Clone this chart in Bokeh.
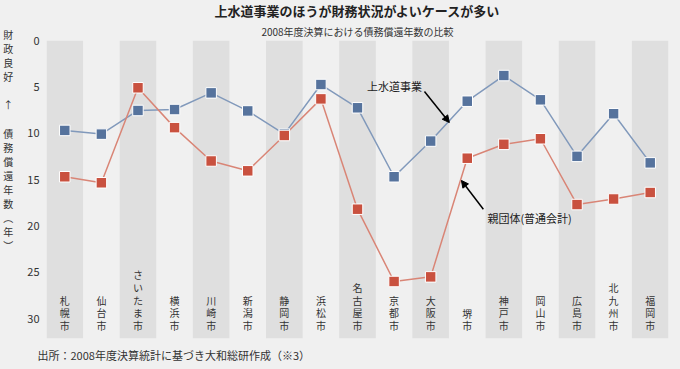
from bokeh.plotting import figure
from bokeh.models import FactorRange, Range1d, Label, Arrow, NormalHead, ColumnDataSource, Title
from bokeh.core.properties import value
from bokeh.embed import file_html
from bokeh.resources import INLINE

# ---- data ----
cities = ["札幌市", "仙台市", "さいたま市", "横浜市", "川崎市", "新潟市", "静岡市", "浜松市",
          "名古屋市", "京都市", "大阪市", "堺市", "神戸市", "岡山市", "広島市", "北九州市", "福岡市"]
water = [9.7, 10.1, 7.55, 7.45, 5.65, 7.6, 10.1, 4.75, 7.26, 14.7, 10.85, 6.55, 3.78, 6.4, 12.5, 7.9, 13.2]
general = [14.7, 15.35, 5.1, 9.4, 13.0, 14.06, 10.25, 6.3, 18.2, 26.0, 25.5, 12.7, 11.2, 10.6, 17.7, 17.1, 16.4]
y_ticks = [0, 5, 10, 15, 20, 25, 30]
y_max = 32.15

title = "上水道事業のほうが財務状況がよいケースが多い"
subtitle = "2008年度決算における債務償還年数の比較"
footer = "出所：2008年度決算統計に基づき大和総研作成（※3）"
y_label_chars = ["財", "政", "良", "好", "\u3000", "↑", "\u3000", "債", "務", "償", "還", "年", "数", "︵", "年", "︶"]
water_name = "上水道事業"
general_name = "親団体(普通会計)"

FONT = "Noto Sans CJK JP"
BG = "#f0f0f0"
BAND = "#dfdfdf"
TXT = "#333333"

p = figure(width=672, height=372, output_backend="svg", toolbar_location=None,
           x_range=FactorRange(*cities, range_padding=0),
           y_range=Range1d(y_max, 0), x_axis_location=None,
           min_border_left=45, min_border_right=4, min_border_top=43, min_border_bottom=31)
p.background_fill_color = BG
p.border_fill_color = BG
p.outline_line_color = None
p.grid.visible = False

ax = p.yaxis[0]
ax.ticker = y_ticks
ax.axis_line_color = None
ax.major_tick_line_color = None
ax.minor_tick_line_color = None
ax.major_tick_out = 0
ax.major_label_standoff = 7
ax.major_label_text_font = FONT
ax.major_label_text_font_size = "11px"
ax.major_label_text_color = TXT
# vertical (stacked) axis title, padded with blank lines so it sits in the upper part
ax.axis_label = "\n".join(y_label_chars + ["\u3000"] * 7)
ax.axis_label_orientation = "horizontal"
ax.axis_label_standoff = 11
ax.axis_label_text_font = FONT
ax.axis_label_text_font_size = "10px"
ax.axis_label_text_font_style = "normal"
ax.axis_label_text_color = TXT
ax.axis_label_text_line_height = 0.94

# alternating bands
band_x = cities[0::2]
p.vbar(x=band_x, top=0, bottom=y_max, width=1, fill_color=BAND, line_color=None)

# category labels (vertical)
lab_src = ColumnDataSource(dict(x=cities, y=[31.6] * len(cities),
                                t=["\n".join(c) for c in cities]))
p.text(x="x", y="y", text="t", source=lab_src, text_font=value(FONT), text_font_size="10px",
       text_color=TXT, text_align="center", text_baseline="bottom", text_line_height=0.86)

# series
p.line(cities, water, line_color="#8199bb", line_width=1.5)
p.line(cities, general, line_color="#d98576", line_width=1.5)
p.scatter(cities, water, marker="square", size=10.5, fill_color="#56739d", line_color="white", line_width=1)
p.scatter(cities, general, marker="square", size=10.5, fill_color="#c9513f", line_color="white", line_width=1)

# annotations
p.add_layout(Label(x=9.51, y=4.96, text=water_name, text_font=FONT, text_font_size="11px",
                   text_color="#222222", text_align="center", text_baseline="middle"))
p.add_layout(Arrow(x_start=10.33, y_start=5.5, x_end=11.01, y_end=8.85, line_width=1.5, line_color="black",
                   end=NormalHead(size=7, fill_color="black", line_color="black")))
p.add_layout(Label(x=12.05, y=19.2, text=general_name, text_font=FONT, text_font_size="11px",
                   text_color="#222222", text_align="left", text_baseline="middle"))
p.add_layout(Arrow(x_start=11.94, y_start=18.2, x_end=11.34, y_end=15.1, line_width=1.5, line_color="black",
                   end=NormalHead(size=7, fill_color="black", line_color="black")))

# titles / footer
p.add_layout(Title(text=subtitle, align="center", text_font=FONT, text_font_size="10px",
                   text_font_style="normal", text_color=TXT, standoff=3), "above")
p.add_layout(Title(text=title, align="center", text_font=FONT, text_font_size="13px",
                   text_font_style="bold", text_color="#222222", standoff=2), "above")
p.add_layout(Title(text=footer, align="left", offset=-9, text_font=FONT, text_font_size="11px",
                   text_font_style="normal", text_color=TXT, standoff=12), "below")

html = file_html(p, INLINE)
html = html.replace("<head>", "<head><style>body{background:#f0f0f0;margin-top:-3px !important;}</style>", 1)
open("out.html", "w").write(html)
